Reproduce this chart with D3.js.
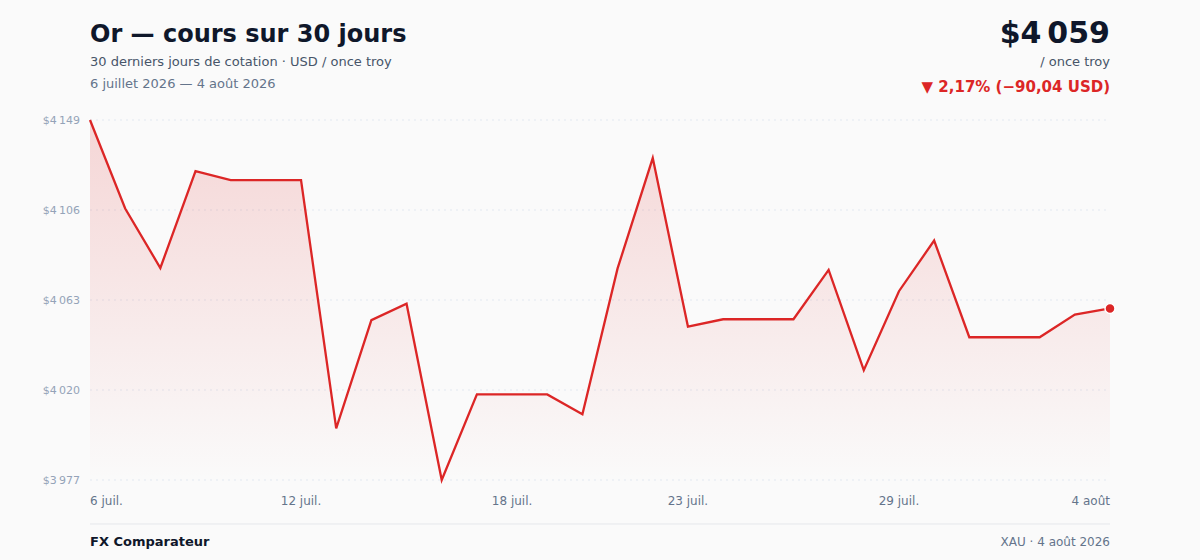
<!DOCTYPE html>
<html>
<head>
<meta charset="utf-8">
<script src="https://cdn.jsdelivr.net/npm/d3@7"></script>
<style>
  html, body { margin: 0; padding: 0; background: #fafafa; }
  svg { display: block; font-family: "DejaVu Sans", sans-serif; }
</style>
</head>
<body>
<div id="chart"></div>
<script>
// daily closes, 6 juil. -> 4 août 2026 (weekends carry friday's close)
var startDate = new Date(2026, 6, 6);
var prices = [4149.00, 4106.7, 4078.3, 4124.6, 4120.3, 4120.3, 4120.3, 4001.7, 4053.4, 4061.2,
              3977.0, 4017.9, 4017.9, 4017.9, 4008.4, 4078.1, 4130.8, 4050.3, 4053.8, 4053.8,
              4053.8, 4077.4, 4029.5, 4067.2, 4091.4, 4045.2, 4045.2, 4045.2, 4056.0, 4058.96];
var tickDays = [0, 6, 12, 17, 23, 29];
var monthsShort = ["janv.", "févr.", "mars", "avr.", "mai", "juin", "juil.", "août", "sept.", "oct.", "nov.", "déc."];
var monthsLong = ["janvier", "février", "mars", "avril", "mai", "juin", "juillet", "août", "septembre", "octobre", "novembre", "décembre"];

var data = prices.map(function(p, i) {
  return { date: d3.timeDay.offset(startDate, i), value: p };
});

var width = 1200, height = 560;
var plotLeft = 90, plotRight = 1110, plotTop = 120, plotBottom = 480;
var red = "#dc2626";

var fr = d3.formatLocale({ decimal: ",", thousands: "\u202f", grouping: [3], currency: ["$", ""] });
var fmtInt = fr.format(",.0f");
var fmt2 = fr.format(",.2f");

function shortDate(d) {
  return d.getDate() + " " + monthsShort[d.getMonth()];
}
function longDate(d) {
  return d.getDate() + " " + monthsLong[d.getMonth()] + " " + d.getFullYear();
}

var svg = d3.select("#chart").append("svg")
  .attr("width", width)
  .attr("height", height);

svg.append("rect").attr("width", width).attr("height", height).style("fill", "#fafafa");

var x = d3.scaleTime()
  .domain(d3.extent(data, function(d) { return d.date; }))
  .range([plotLeft, plotRight]);

var minV = d3.min(prices), maxV = d3.max(prices);
var y = d3.scaleLinear().domain([minV, maxV]).range([plotBottom, plotTop]);
var yTicks = d3.range(5).map(function(i) { return minV + i * (maxV - minV) / 4; });

// gradient for the area
var grad = svg.append("defs").append("linearGradient")
  .attr("id", "fade")
  .attr("x1", 0).attr("y1", 0).attr("x2", 0).attr("y2", 1);
grad.append("stop").attr("offset", "0%").attr("stop-color", red).attr("stop-opacity", 0.17);
grad.append("stop").attr("offset", "100%").attr("stop-color", red).attr("stop-opacity", 0.0);

// grid
svg.append("g")
  .selectAll("line")
  .data(yTicks)
  .enter()
  .append("line")
  .attr("x1", plotLeft)
  .attr("x2", plotRight)
  .attr("y1", function(d) { return y(d); })
  .attr("y2", function(d) { return y(d); })
  .style("stroke", "#e2e8f0")
  .style("stroke-width", "1px")
  .style("stroke-dasharray", "2,4");

svg.append("g")
  .selectAll("text")
  .data(yTicks)
  .enter()
  .append("text")
  .text(function(d) { return "$" + fmtInt(d); })
  .attr("x", 80)
  .attr("y", function(d) { return y(d) + 4; })
  .attr("text-anchor", "end")
  .style("font-size", "11px")
  .style("fill", "#94a3b8");

// area + line
var area = d3.area()
  .x(function(d) { return x(d.date); })
  .y0(plotBottom)
  .y1(function(d) { return y(d.value); });

var line = d3.line()
  .x(function(d) { return x(d.date); })
  .y(function(d) { return y(d.value); });

svg.append("path")
  .datum(data)
  .attr("d", area)
  .style("fill", "url(#fade)");

svg.append("path")
  .datum(data)
  .attr("d", line)
  .style("fill", "none")
  .style("stroke", red)
  .style("stroke-width", "2.3px");

var last = data[data.length - 1];
svg.append("circle")
  .attr("cx", x(last.date))
  .attr("cy", y(last.value))
  .attr("r", 5)
  .style("fill", red)
  .style("stroke", "#ffffff")
  .style("stroke-width", "1.5px");

// x labels
svg.append("g")
  .selectAll("text")
  .data(tickDays)
  .enter()
  .append("text")
  .text(function(i) { return shortDate(data[i].date); })
  .attr("x", function(i) { return x(data[i].date); })
  .attr("y", 505)
  .attr("text-anchor", function(i, k) {
    if (k == 0) return "start";
    if (k == tickDays.length - 1) return "end";
    return "middle";
  })
  .style("font-size", "12px")
  .style("fill", "#64748b");

// header
svg.append("text")
  .text("Or — cours sur 30 jours")
  .attr("x", plotLeft).attr("y", 42)
  .style("font-size", "24px").style("font-weight", "bold").style("fill", "#0f172a");

svg.append("text")
  .text("30 derniers jours de cotation · USD / once troy")
  .attr("x", plotLeft).attr("y", 66)
  .style("font-size", "13px").style("fill", "#475569");

svg.append("text")
  .text(longDate(data[0].date) + " — " + longDate(last.date))
  .attr("x", plotLeft).attr("y", 88)
  .style("font-size", "13px").style("fill", "#64748b");

var change = last.value - data[0].value;
var pct = Math.abs(change) / data[0].value * 100;

svg.append("text")
  .text("$" + fmtInt(last.value))
  .attr("x", plotRight).attr("y", 43)
  .attr("text-anchor", "end")
  .style("font-size", "30px").style("font-weight", "bold").style("fill", "#0f172a");

svg.append("text")
  .text("/ once troy")
  .attr("x", plotRight).attr("y", 66)
  .attr("text-anchor", "end")
  .style("font-size", "13px").style("fill", "#475569");

svg.append("text")
  .text((change < 0 ? "▼ " : "▲ ") + fmt2(pct) + "% (" + (change < 0 ? "−" : "+") + fmt2(Math.abs(change)) + " USD)")
  .attr("x", plotRight).attr("y", 92)
  .attr("text-anchor", "end")
  .style("font-size", "15px").style("font-weight", "bold").style("fill", red);

// footer
svg.append("line")
  .attr("x1", plotLeft).attr("x2", plotRight)
  .attr("y1", 524).attr("y2", 524)
  .style("stroke", "#e5e7eb").style("stroke-width", "1px");

svg.append("text")
  .text("FX Comparateur")
  .attr("x", plotLeft).attr("y", 546)
  .style("font-size", "13px").style("font-weight", "bold").style("fill", "#0f172a");

svg.append("text")
  .text("XAU · " + longDate(last.date))
  .attr("x", plotRight).attr("y", 546)
  .attr("text-anchor", "end")
  .style("font-size", "12px").style("fill", "#64748b");
</script>
</body>
</html>
